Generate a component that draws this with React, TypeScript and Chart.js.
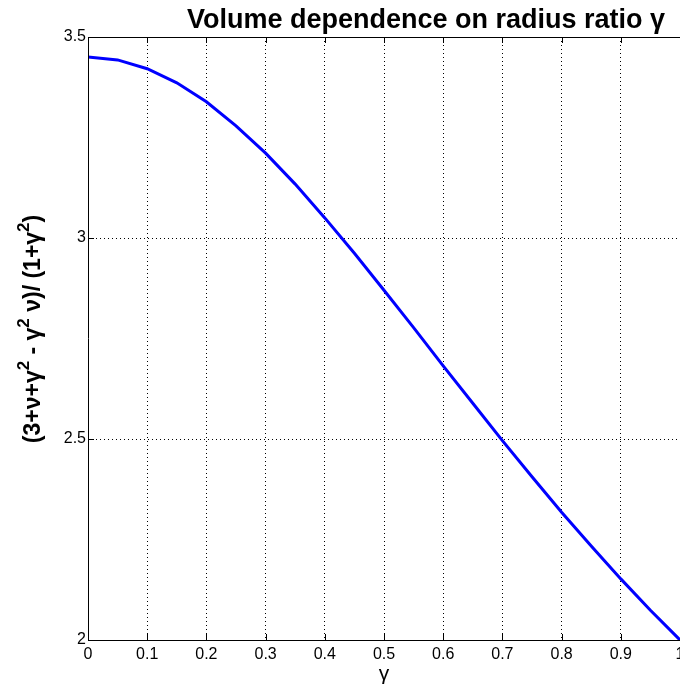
import React, { useEffect, useRef } from "react";
import { Chart, registerables } from "chart.js";

Chart.register(...registerables);

const gammaValues = [0, 0.05, 0.1, 0.15, 0.2, 0.25, 0.3, 0.35, 0.4, 0.45, 0.5, 0.55, 0.6, 0.65, 0.7, 0.75, 0.8, 0.85, 0.9, 0.95, 1];
const ratioValues = [3.45, 3.443, 3.421, 3.386, 3.339, 3.279, 3.211, 3.134, 3.05, 2.962, 2.87, 2.777, 2.682, 2.589, 2.496, 2.406, 2.318, 2.234, 2.152, 2.074, 2.0];
const xTickValues = [0, 0.1, 0.2, 0.3, 0.4, 0.5, 0.6, 0.7, 0.8, 0.9, 1];
const xTickLabels = ["0", "0.1", "0.2", "0.3", "0.4", "0.5", "0.6", "0.7", "0.8", "0.9", "1"];
const yTickValues = [2, 2.5, 3, 3.5];
const yTickLabels = ["2", "2.5", "3", "3.5"];

const titleText = "Volume dependence on radius ratio γ";
const xTitleText = "γ";
// y-title segments: [text, isSuperscript]
const yTitleParts: [string, boolean][] = [
  ["(3+ν+γ", false],
  ["2", true],
  [" - γ", false],
  ["2", true],
  [" ν)/ (1+γ", false],
  ["2", true],
  [")", false],
];

const FONT = "'Liberation Sans', Arial, Helvetica, sans-serif";

const decorPlugin = {
  id: "decor",
  afterDraw(chart: any) {
    const ctx: CanvasRenderingContext2D = chart.ctx;
    const { left, top, right, bottom } = chart.chartArea;
    const xs = chart.scales.x;
    const ys = chart.scales.y;
    ctx.save();
    ctx.strokeStyle = "#000";
    ctx.lineWidth = 1;
    ctx.setLineDash([]);
    ctx.beginPath();
    // frame
    ctx.moveTo(left + 0.5, top + 0.5);
    ctx.lineTo(right, top + 0.5);
    ctx.moveTo(left + 0.5, top);
    ctx.lineTo(left + 0.5, bottom);
    ctx.moveTo(left, bottom + 0.5);
    ctx.lineTo(right, bottom + 0.5);
    // inward ticks
    xTickValues.forEach((v) => {
      const px = Math.round(xs.getPixelForValue(v)) + 0.5;
      ctx.moveTo(px, bottom);
      ctx.lineTo(px, bottom - 6);
      ctx.moveTo(px, top);
      ctx.lineTo(px, top + 6);
    });
    yTickValues.forEach((v) => {
      const py = Math.round(ys.getPixelForValue(v)) + 0.5;
      ctx.moveTo(left, py);
      ctx.lineTo(left + 6, py);
    });
    ctx.stroke();

    ctx.fillStyle = "#000";
    // title
    ctx.font = `bold 27px ${FONT}`;
    ctx.textAlign = "right";
    ctx.textBaseline = "alphabetic";
    ctx.fillText(titleText, 665, 28);

    // x title
    ctx.font = `21px ${FONT}`;
    ctx.textAlign = "center";
    ctx.fillText(xTitleText, (left + right) / 2, 680);

    // y title rotated with superscripts
    const mainFont = `bold 23px ${FONT}`;
    const supFont = `bold 17px ${FONT}`;
    let total = 0;
    const widths = yTitleParts.map(([t, sup]) => {
      ctx.font = sup ? supFont : mainFont;
      const w = ctx.measureText(t).width;
      total += w;
      return w;
    });
    ctx.save();
    ctx.translate(40, 329);
    ctx.rotate(-Math.PI / 2);
    ctx.textAlign = "left";
    let cx = -total / 2;
    yTitleParts.forEach(([t, sup], i) => {
      ctx.font = sup ? supFont : mainFont;
      ctx.fillText(t, cx, sup ? -11 : 0);
      cx += widths[i];
    });
    ctx.restore();
    ctx.restore();
  },
};

export default function App() {
  const canvasRef = useRef<HTMLCanvasElement | null>(null);

  useEffect(() => {
    if (!canvasRef.current) return;
    const chart = new Chart(canvasRef.current, {
      type: "line",
      data: {
        datasets: [
          {
            data: gammaValues.map((g, i) => ({ x: g, y: ratioValues[i] })),
            borderColor: "#0000ff",
            borderWidth: 3,
            pointRadius: 0,
            tension: 0,
            fill: false,
          },
        ],
      },
      options: {
        animation: false,
        responsive: false,
        devicePixelRatio: 1,
        layout: { padding: { top: 37, left: 0, right: 0, bottom: 0 }, autoPadding: false },
        plugins: {
          legend: { display: false },
          title: { display: false },
          tooltip: { enabled: false },
        },
        scales: {
          x: {
            type: "linear",
            min: 0,
            max: 1,
            afterBuildTicks: (scale: any) => {
              scale.ticks = xTickValues.map((v) => ({ value: v }));
            },
            afterFit: (scale: any) => {
              scale.height = 49;
              scale.paddingLeft = 0;
              scale.paddingRight = 0;
            },
            ticks: {
              color: "#000",
              font: { family: FONT, size: 16 },
              padding: 5,
              maxRotation: 0,
              autoSkip: false,
              callback: (v: any) => {
                const i = xTickValues.findIndex((t) => Math.abs(t - Number(v)) < 1e-9);
                return i >= 0 ? xTickLabels[i] : "";
              },
            },
            grid: { color: "#000", lineWidth: 1, tickLength: 0, drawTicks: false },
            border: { display: false, dash: [1, 3] },
          },
          y: {
            type: "linear",
            min: 2,
            max: 3.5,
            afterBuildTicks: (scale: any) => {
              scale.ticks = yTickValues.map((v) => ({ value: v }));
            },
            afterFit: (scale: any) => {
              scale.width = 88;
              scale.paddingTop = 0;
              scale.paddingBottom = 0;
            },
            ticks: {
              color: "#000",
              font: { family: FONT, size: 16 },
              padding: 2,
              autoSkip: false,
              callback: (v: any) => {
                const i = yTickValues.findIndex((t) => Math.abs(t - Number(v)) < 1e-9);
                return i >= 0 ? yTickLabels[i] : "";
              },
            },
            grid: { color: "#000", lineWidth: 1, tickLength: 0, drawTicks: false },
            border: { display: false, dash: [1, 3] },
          },
        },
      },
      plugins: [decorPlugin],
    } as any);
    return () => chart.destroy();
  }, []);

  return (
    <canvas
      ref={canvasRef}
      width={680}
      height={689}
      style={{ position: "fixed", left: 0, top: 0, width: 680, height: 689, background: "#fff" }}
    />
  );
}
